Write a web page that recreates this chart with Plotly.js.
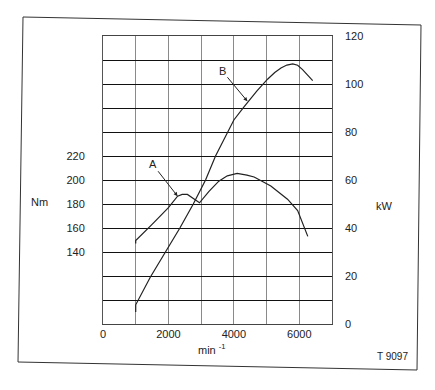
<!DOCTYPE html>
<html>
<head>
<meta charset="utf-8">
<script src="https://cdn.plot.ly/plotly-3.0.1.min.js"></script>
<style>html,body{margin:0;padding:0;background:#fff;}#chart{width:435px;height:390px;}</style>
</head>
<body>
<div id="chart"></div>
<script>
// Curve A: torque (Nm) vs engine speed (min-1)
var rpmA = [1000, 1000, 1500, 2000, 2280, 2420, 2580, 2725, 2890, 2950, 3240, 3540, 3800, 4100, 4400, 4620, 5130, 5640, 5950, 6260];
var torqueA = [147, 149.5, 163, 177, 186.5, 188, 188, 185.5, 182.5, 181, 190.5, 199, 203.5, 205.5, 204, 202.5, 195, 184, 174.5, 153];
// Curve B: power (kW) vs engine speed
var rpmB = [1000, 1000, 1445, 1910, 2350, 2760, 3000, 3135, 3440, 3800, 4000, 4310, 4700, 5030, 5250, 5440, 5620, 5800, 5950, 6100, 6410];
var powerB = [5, 8, 19.5, 30, 40, 50, 56, 60, 70, 80, 85, 90.5, 97, 102, 104.8, 106.7, 107.9, 108.4, 107.8, 106, 101.4];

// Axis ticks
var xTickVals = [0, 1000, 2000, 3000, 4000, 5000, 6000, 7000];
var xTickText = ['0', ' ', '2000', ' ', '4000', ' ', '6000', ' '];
var nmTickVals = [80, 100, 120, 140, 160, 180, 200, 220, 240, 260, 280, 300, 320];
var nmTickText = [' ', ' ', ' ', '140', '160', '180', '200', '220', ' ', ' ', ' ', ' ', ' '];
var kwTickVals = [0, 10, 20, 30, 40, 50, 60, 70, 80, 90, 100, 110, 120];
var kwTickText = ['0', ' ', '20', ' ', '40', ' ', '60', ' ', '80', ' ', '100', ' ', '120'];

var L = 103, R = 332, T = 36, B = 324;
var W = 435, H = 390;
function px(x) { return (x - L) / (R - L); }
function py(y) { return (B - y) / (B - T); }

var ink = '#222';
var font = {family: 'Liberation Sans, Arial, sans-serif', size: 11, color: ink};

var traces = [
  {x: rpmA, y: torqueA, type: 'scatter', mode: 'lines', yaxis: 'y',
   line: {color: ink, width: 1.2}, hoverinfo: 'skip'},
  {x: rpmB, y: powerB, type: 'scatter', mode: 'lines', yaxis: 'y2',
   line: {color: ink, width: 1.2}, hoverinfo: 'skip'}
];

var frame = 'M' + px(23) + ',' + py(17) + ' L' + px(421) + ',' + py(25) +
            ' L' + px(417) + ',' + py(370) + ' L' + px(18) + ',' + py(362) + ' Z';

var layout = {
  width: W, height: H,
  margin: {l: L, r: W - R, t: T, b: H - B, pad: 0},
  paper_bgcolor: '#fff', plot_bgcolor: '#fff',
  showlegend: false,
  font: font,
  xaxis: {range: [0, 7000], tickvals: xTickVals, ticktext: xTickText,
          showgrid: true, gridcolor: '#8a8a8a', gridwidth: 1,
          zeroline: false, showline: true, mirror: true, linecolor: '#444', linewidth: 1,
          ticks: '', tickfont: font, fixedrange: true},
  yaxis: {range: [80, 320], tickvals: nmTickVals, ticktext: nmTickText,
          showgrid: true, gridcolor: '#111', gridwidth: 1,
          zeroline: false, showline: true, mirror: true, linecolor: '#555', linewidth: 1,
          ticks: '', ticklabelstandoff: 15, tickfont: font, fixedrange: true},
  yaxis2: {range: [0, 120], tickvals: kwTickVals, ticktext: kwTickText,
           overlaying: 'y', side: 'right', showgrid: false, zeroline: false,
           ticks: '', ticklabelstandoff: 12, tickfont: font, fixedrange: true},
  shapes: [
    {type: 'path', xref: 'paper', yref: 'paper', path: frame,
     line: {color: '#333', width: 1}, fillcolor: 'rgba(0,0,0,0)', layer: 'below'}
  ],
  annotations: [
    {x: 2280, y: 186.5, xref: 'x', yref: 'y', text: 'A', showarrow: true,
     ax: -25, ay: -32, arrowhead: 2, arrowsize: 0.8, arrowwidth: 1, arrowcolor: ink,
     standoff: 0, startstandoff: 0, font: font},
    {x: 4415, y: 92.8, xref: 'x', yref: 'y2', text: 'B', showarrow: true,
     ax: -25, ay: -30, arrowhead: 2, arrowsize: 0.8, arrowwidth: 1, arrowcolor: ink,
     standoff: 0, startstandoff: 0, font: font},
    {x: px(39), y: py(202), xref: 'paper', yref: 'paper', text: 'Nm',
     showarrow: false, font: font, xanchor: 'center', yanchor: 'middle'},
    {x: px(384), y: py(206), xref: 'paper', yref: 'paper', text: 'kW',
     showarrow: false, font: font, xanchor: 'center', yanchor: 'middle'},
    {x: px(212), y: py(349), xref: 'paper', yref: 'paper', text: 'min <sup>-1</sup>',
     showarrow: false, font: font, xanchor: 'center', yanchor: 'middle'},
    {x: px(392), y: py(356), xref: 'paper', yref: 'paper', text: 'T 9097',
     showarrow: false, font: {family: font.family, size: 10, color: ink}, xanchor: 'center', yanchor: 'middle'}
  ]
};

Plotly.newPlot('chart', traces, layout, {staticPlot: true, displayModeBar: false});
</script>
</body>
</html>
